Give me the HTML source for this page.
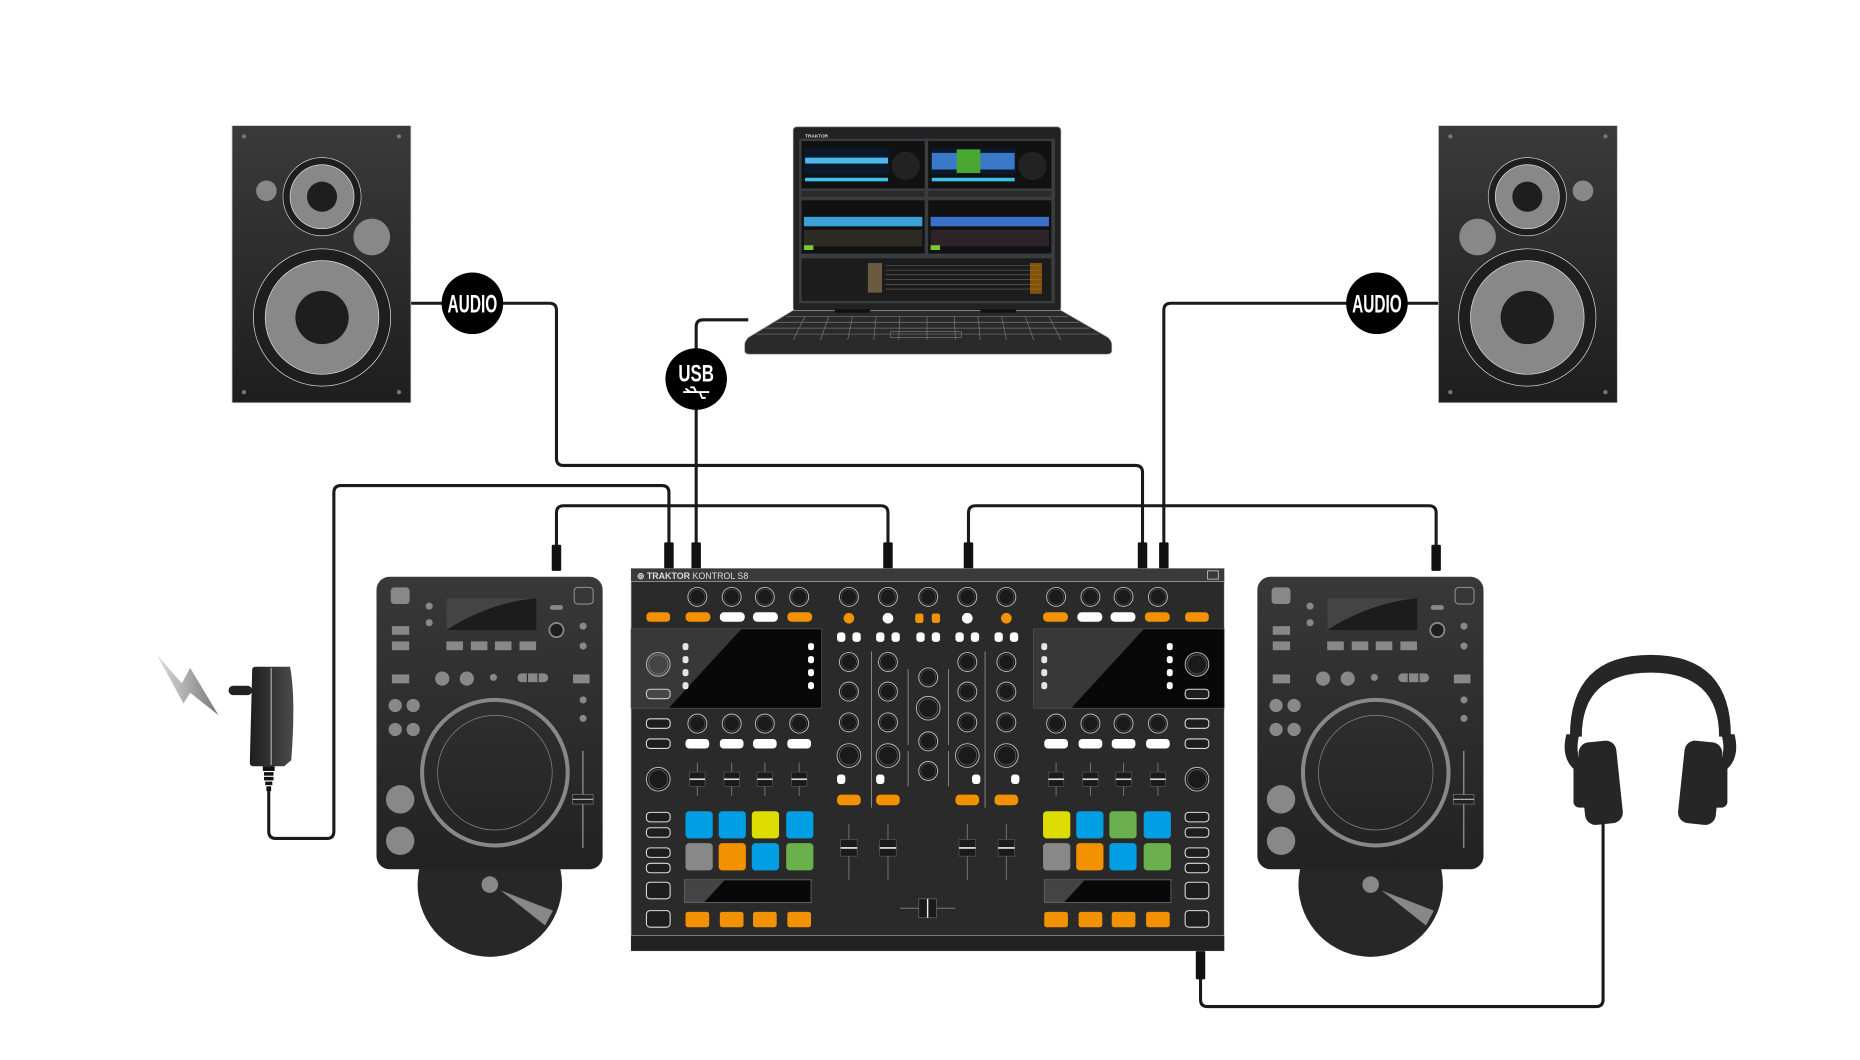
<!DOCTYPE html>
<html><head><meta charset="utf-8"><style>html,body{margin:0;padding:0;background:#fff}svg{display:block}</style></head>
<body>
<svg width="1860" height="1060" viewBox="0 0 1571 895" xmlns="http://www.w3.org/2000/svg">
<defs>
<linearGradient id="spk" x1="0" y1="0" x2="0" y2="1"><stop offset="0" stop-color="#3a3a3a"/><stop offset="1" stop-color="#1e1e1e"/></linearGradient>
<linearGradient id="dk" x1="0" y1="0" x2="0" y2="1"><stop offset="0" stop-color="#383838"/><stop offset="1" stop-color="#222"/></linearGradient>
<linearGradient id="bolt" x1="0" y1="0" x2="1" y2="0"><stop offset="0" stop-color="#ddd"/><stop offset="1" stop-color="#777"/></linearGradient>
<linearGradient id="adp" x1="0" y1="0" x2="1" y2="0"><stop offset="0" stop-color="#1e1e1e"/><stop offset="1" stop-color="#4a4a4a"/></linearGradient>
<g id="speaker">
<rect x="0" y="0" width="151" height="234" fill="url(#spk)" stroke="#bbb" stroke-width="0.6"/>
<circle cx="10" cy="9" r="1.8" fill="#777"/><circle cx="141" cy="9" r="1.8" fill="#777"/>
<circle cx="10" cy="225" r="1.8" fill="#777"/><circle cx="141" cy="225" r="1.8" fill="#777"/>
<circle cx="29" cy="55" r="8.7" fill="#888"/>
<circle cx="118" cy="94" r="15.5" fill="#888"/>
<circle cx="76" cy="60" r="33" fill="#1e1e1e" stroke="#ccc" stroke-width="0.6"/>
<circle cx="76" cy="60" r="27" fill="#888" stroke="#ddd" stroke-width="0.6"/>
<circle cx="76" cy="60" r="12.7" fill="#1e1e1e"/>
<circle cx="76" cy="162" r="58" fill="#1e1e1e" stroke="#ddd" stroke-width="0.6"/>
<circle cx="76" cy="162" r="48" fill="#888" stroke="#ddd" stroke-width="0.6"/>
<circle cx="76" cy="162" r="22.5" fill="#1e1e1e"/>
</g>
<g id="deck">
<circle cx="95.7" cy="260" r="61" fill="#272727"/>
<circle cx="95.7" cy="260" r="7" fill="#888"/>
<polygon points="105,265 149,282 142.4,294.5" fill="#888"/>
<rect x="0" y="0" width="191" height="247" rx="11" fill="url(#dk)"/>
<rect x="12" y="9" width="16" height="14" rx="3" fill="#888"/>
<rect x="167" y="9" width="16" height="14" rx="3" fill="none" stroke="#888" stroke-width="1"/>
<circle cx="44.5" cy="24.8" r="3" fill="#888"/><circle cx="44.5" cy="38.8" r="3" fill="#888"/>
<rect x="59" y="18" width="76" height="27" fill="#1c1c1c"/>
<path d="M59 18 H135 V18 Q95 22 59 45 Z" fill="#444"/>
<rect x="146.5" y="24" width="11" height="4" rx="2" fill="#888"/>
<circle cx="152" cy="45" r="6" fill="#1e1e1e" stroke="#888" stroke-width="1.5"/>
<circle cx="174.5" cy="41.7" r="3" fill="#888"/><circle cx="174.5" cy="58.5" r="3" fill="#888"/>
<rect x="13" y="41.7" width="14.6" height="7.3" fill="#888"/>
<rect x="13" y="54.6" width="14.6" height="7.4" fill="#888"/>
<rect x="59" y="54.6" width="14" height="7.4" fill="#888"/><rect x="79.7" y="54.6" width="14" height="7.4" fill="#888"/>
<rect x="100" y="54.6" width="14" height="7.4" fill="#888"/><rect x="120.8" y="54.6" width="14" height="7.4" fill="#888"/>
<rect x="13" y="82.5" width="14.6" height="7.5" fill="#888"/>
<circle cx="55.5" cy="86" r="6" fill="#888"/><circle cx="76.3" cy="86" r="6" fill="#888"/><circle cx="98.8" cy="85" r="3" fill="#888"/>
<rect x="119" y="81.6" width="26" height="7.4" rx="3.7" fill="#888"/>
<line x1="127.5" y1="81.6" x2="127.5" y2="89" stroke="#2a2a2a" stroke-width="1"/><line x1="136.5" y1="81.6" x2="136.5" y2="89" stroke="#2a2a2a" stroke-width="1"/>
<rect x="166" y="82.5" width="14" height="7.5" fill="#888"/>
<circle cx="174.5" cy="104" r="3" fill="#888"/><circle cx="174.5" cy="119.6" r="3" fill="#888"/>
<circle cx="15.8" cy="108.7" r="5.6" fill="#888"/><circle cx="31" cy="108.7" r="5.6" fill="#888"/>
<circle cx="15.8" cy="129" r="5.6" fill="#888"/><circle cx="31" cy="129" r="5.6" fill="#888"/>
<circle cx="100" cy="165.5" r="61.5" fill="none" stroke="#888" stroke-width="3.4"/>
<circle cx="100" cy="165.5" r="48.4" fill="none" stroke="#888" stroke-width="0.6"/>
<circle cx="20" cy="188" r="12" fill="#888"/><circle cx="20" cy="223" r="12" fill="#888"/>
<line x1="174.3" y1="147" x2="174.3" y2="229" stroke="#888" stroke-width="1.2"/>
<rect x="165.5" y="184" width="17.5" height="8" fill="#222" stroke="#777" stroke-width="0.6"/>
<line x1="165.5" y1="188" x2="183" y2="188" stroke="#aaa" stroke-width="1"/>
</g>
<g id="knob"><circle r="8" fill="#1a1a1a" stroke="#bbb" stroke-width="0.8"/><circle r="6.3" fill="none" stroke="#555" stroke-width="0.5"/></g>
<g id="bknob"><circle r="10" fill="#1a1a1a" stroke="#bbb" stroke-width="0.8"/><circle r="8" fill="none" stroke="#666" stroke-width="0.6"/></g>
<g id="ob"><rect x="-10" y="-4" width="20" height="8" rx="3" fill="#1e1e1e" stroke="#ddd" stroke-width="0.9"/></g>
<g id="fader"><line x1="0" y1="-14" x2="0" y2="14" stroke="#777" stroke-width="0.8"/><rect x="-6.5" y="-6" width="13" height="12" fill="#1a1a1a" stroke="#555" stroke-width="0.6"/><line x1="-6.5" y1="0" x2="6.5" y2="0" stroke="#ddd" stroke-width="1.4"/></g>
<g id="side">
<rect x="533" y="531" width="161" height="67" fill="#080808" stroke="#555" stroke-width="0.6"/>
<use href="#bknob" x="556" y="561"/>
<use href="#ob" x="556" y="586"/>
<g fill="#fff"><rect x="576.5" y="543" width="5" height="6" rx="2"/><rect x="576.5" y="554" width="5" height="6" rx="2"/><rect x="576.5" y="565" width="5" height="6" rx="2"/><rect x="576.5" y="576" width="5" height="6" rx="2"/>
<rect x="682.5" y="543" width="5" height="6" rx="2"/><rect x="682.5" y="554" width="5" height="6" rx="2"/><rect x="682.5" y="565" width="5" height="6" rx="2"/><rect x="682.5" y="576" width="5" height="6" rx="2"/></g>
<use href="#knob" x="589" y="504"/><use href="#knob" x="618" y="504"/><use href="#knob" x="646" y="504"/><use href="#knob" x="675" y="504"/>
<rect x="546" y="517" width="20" height="8" rx="3" fill="#f39200"/><rect x="579" y="517" width="21" height="8" rx="3.5" fill="#f39200"/>
<rect x="608" y="517" width="21" height="8" rx="3.5" fill="#fff"/><rect x="636" y="517" width="21" height="8" rx="3.5" fill="#fff"/>
<rect x="665" y="517" width="21" height="8" rx="3.5" fill="#f39200"/>
<use href="#knob" x="589" y="611"/><use href="#knob" x="618" y="611"/><use href="#knob" x="646" y="611"/><use href="#knob" x="675" y="611"/>
<use href="#ob" x="556" y="611"/><use href="#ob" x="556" y="628"/>
<g fill="#fff"><rect x="579" y="624" width="20" height="8" rx="3"/><rect x="608" y="624" width="20" height="8" rx="3"/><rect x="636" y="624" width="20" height="8" rx="3"/><rect x="665" y="624" width="20" height="8" rx="3"/></g>
<use href="#bknob" x="556" y="658"/>
<use href="#fader" x="589" y="658"/><use href="#fader" x="618" y="658"/><use href="#fader" x="646" y="658"/><use href="#fader" x="675" y="658"/>
<use href="#ob" x="556" y="690"/><use href="#ob" x="556" y="703"/><use href="#ob" x="556" y="720"/><use href="#ob" x="556" y="733"/>
<rect x="546" y="745" width="20" height="14" rx="3" fill="#1e1e1e" stroke="#ddd" stroke-width="0.9"/>
<rect x="546" y="769" width="20" height="14" rx="3" fill="#1e1e1e" stroke="#ddd" stroke-width="0.9"/>
<rect x="578" y="743" width="107" height="19" fill="#080808" stroke="#777" stroke-width="0.6"/>
<g fill="#f39200"><rect x="579" y="770" width="20" height="13" rx="2"/><rect x="608" y="770" width="20" height="13" rx="2"/><rect x="636" y="770" width="20" height="13" rx="2"/><rect x="665" y="770" width="20" height="13" rx="2"/></g>
</g>
</defs>

<!-- cables -->
<g fill="none" stroke="#1a1a1a" stroke-width="2.6">
<path d="M347 256 H464 Q470 256 470 262 V387 Q470 393 476 393 H959 Q965 393 965 399 V460"/>
<path d="M1215 256 H989 Q983 256 983 262 V460"/>
<path d="M632 270 H594 Q588 270 588 276 V460"/>
<path d="M565 460 V416 Q565 410 559 410 H288 Q282 410 282 416 V702 Q282 708 276 708 H233 Q227 708 227 702 V665"/>
<path d="M470 462 V433 Q470 427 476 427 H744 Q750 427 750 433 V460"/>
<path d="M818 460 V433 Q818 427 824 427 H1207 Q1213 427 1213 433 V462"/>
<path d="M1014 820 V844 Q1014 850 1020 850 H1348 Q1354 850 1354 844 V690"/>
</g>
<g fill="#111">
<rect x="466" y="460" width="8" height="22" rx="1"/><rect x="561" y="458" width="8" height="24" rx="1"/><rect x="584" y="458" width="8" height="24" rx="1"/>
<rect x="746" y="458" width="8" height="24" rx="1"/><rect x="814" y="458" width="8" height="24" rx="1"/><rect x="961" y="458" width="8" height="24" rx="1"/>
<rect x="979" y="458" width="8" height="24" rx="1"/><rect x="1209" y="460" width="8" height="22" rx="1"/>
<rect x="1010" y="803" width="8" height="24" rx="1"/>
</g>

<!-- speakers -->
<use href="#speaker" x="196" y="106"/>
<g transform="translate(1366,106) scale(-1,1)"><use href="#speaker"/></g>

<!-- badges -->
<g font-family="'Liberation Sans Narrow','Liberation Sans',sans-serif" font-weight="bold" fill="#fff" text-anchor="middle">
<circle cx="399" cy="256" r="26" fill="#000"/><text x="399" y="264" font-size="21" textLength="42" lengthAdjust="spacingAndGlyphs">AUDIO</text>
<circle cx="1163" cy="256" r="26" fill="#000"/><text x="1163" y="264" font-size="21" textLength="42" lengthAdjust="spacingAndGlyphs">AUDIO</text>
<circle cx="588" cy="320" r="26" fill="#000"/><text x="588" y="322" font-size="20" textLength="30" lengthAdjust="spacingAndGlyphs">USB</text>
<path d="M577 331 H599 M583 331 l-4 -3 M591 331 l2 5 h3 M588 331 l-2 -4 h-3" stroke="#fff" stroke-width="1.6" fill="none"/>
</g>

<!-- laptop -->
<rect x="670" y="107" width="226" height="156" rx="3" fill="#222" stroke="#888" stroke-width="0.6"/>
<rect x="675" y="112" width="216" height="144" fill="#3a3d40"/>
<rect x="675" y="112" width="216" height="5" fill="#202224"/>
<text x="680" y="116" font-family="'Liberation Sans',sans-serif" font-size="4" fill="#ddd" font-weight="bold">TRAKTOR</text>
<rect x="677" y="119" width="104" height="40" fill="#111"/><rect x="784" y="119" width="104" height="40" fill="#111"/>
<rect x="679" y="125" width="72" height="22" fill="#0b1a2a"/><rect x="786" y="125" width="72" height="22" fill="#0b1a2a"/>
<rect x="680" y="133" width="70" height="5" fill="#4ab8e8"/><rect x="787" y="129" width="70" height="14" fill="#3a78c8"/><rect x="808" y="126" width="20" height="20" fill="#4aa832"/>
<rect x="680" y="150" width="70" height="3" fill="#40c0e8"/><rect x="787" y="150" width="70" height="3" fill="#40c0e8"/>
<circle cx="765" cy="140" r="12" fill="#222"/><circle cx="872" cy="140" r="12" fill="#222"/>
<rect x="677" y="161" width="104" height="5" fill="#2a2a2a"/><rect x="784" y="161" width="104" height="5" fill="#2a2a2a"/>
<rect x="677" y="169" width="104" height="45" fill="#111"/><rect x="784" y="169" width="104" height="45" fill="#111"/>
<rect x="679" y="183" width="100" height="8" fill="#3aa0d8"/><rect x="786" y="183" width="100" height="8" fill="#3a70c8"/>
<rect x="679" y="194" width="100" height="14" fill="#2c2c24"/><rect x="786" y="194" width="100" height="14" fill="#2c2428"/>
<rect x="679" y="207" width="8" height="4" fill="#7c3"/><rect x="786" y="207" width="8" height="4" fill="#7c3"/>
<rect x="677" y="218" width="211" height="36" fill="#1c1c1c"/>
<rect x="733" y="222" width="12" height="25" fill="#6a5a40"/>
<g stroke="#666" stroke-width="0.5"><line x1="748" y1="224" x2="880" y2="224"/><line x1="748" y1="228" x2="880" y2="228"/><line x1="748" y1="232" x2="880" y2="232"/><line x1="748" y1="236" x2="880" y2="236"/><line x1="748" y1="240" x2="880" y2="240"/><line x1="748" y1="244" x2="880" y2="244"/></g>
<rect x="870" y="222" width="10" height="26" fill="#c87800" opacity="0.6"/>
<path d="M670 262 H896 L936 285 Q939 288 939 291 V296 Q939 299 935 299 H633 Q629 299 629 296 V291 Q629 288 632 285 Z" fill="#2a2a2a" stroke="#999" stroke-width="0.6"/>
<rect x="705" y="261" width="30" height="3" fill="#111"/><rect x="828" y="261" width="30" height="3" fill="#111"/>
<g stroke="#777" stroke-width="0.6" fill="none">
<path d="M664 267 H902 M655 272 H911 M646 277 H920 M638 282 H928"/>
<path d="M680 267 L670 287 M700 267 L693 287 M720 267 L716 287 M740 267 L738 287 M760 267 L759 287 M783 267 V287 M806 267 L807 287 M826 267 L828 287 M846 267 L850 287 M866 267 L873 287 M886 267 L896 287"/>
<rect x="752" y="280" width="60" height="5"/>
</g>

<!-- power -->
<polygon points="132.5,553 153.6,577 160.6,564 184.6,604 160.6,585 155,594" fill="url(#bolt)"/>
<rect x="193" y="579" width="20" height="8" rx="4" fill="#222"/>
<path d="M213 566 Q213 563 216 563 H245 Q250 590 246 642 L240 647 H214 Q211 647 211 644 Z" fill="url(#adp)"/>
<line x1="229" y1="564" x2="229" y2="646" stroke="#ccc" stroke-width="0.8"/>
<g fill="#111"><rect x="222" y="647" width="10" height="4"/><rect x="223" y="652" width="8" height="3"/><rect x="223" y="656" width="8" height="3"/><rect x="224" y="660" width="6" height="3"/><rect x="225" y="664" width="4" height="4"/></g>

<!-- decks -->
<use href="#deck" x="318" y="487"/>
<use href="#deck" x="1062" y="487"/>

<!-- mixer -->
<rect x="533" y="480" width="501" height="323" fill="#2a2a2a" stroke="#bbb" stroke-width="0.5"/>
<rect x="533" y="480" width="501" height="11" fill="#3a3a3a"/>
<line x1="533" y1="491" x2="1034" y2="491" stroke="#aaa" stroke-width="0.7"/>
<rect x="533" y="790" width="501" height="13" fill="#222"/>
<line x1="533" y1="790" x2="1034" y2="790" stroke="#999" stroke-width="0.7"/>
<text x="538" y="489" font-family="'Liberation Sans',sans-serif" font-size="7.5" fill="#ddd"><tspan font-weight="bold">⊚ TRAKTOR</tspan> KONTROL S8</text>
<rect x="1020" y="482" width="9" height="7" fill="none" stroke="#ccc" stroke-width="0.7"/>
<use href="#side"/>
<g transform="translate(1567,0) scale(-1,1)"><use href="#side"/></g>
<polygon points="533.3,531.3 626,531.3 565,597.7 533.3,597.7" fill="#aaa" opacity="0.3"/>
<polygon points="873.3,531.3 966,531.3 905,597.7 873.3,597.7" fill="#aaa" opacity="0.3"/>
<polygon points="578.3,743.3 612,743.3 595,761.7 578.3,761.7" fill="#444"/>
<polygon points="882.3,743.3 916,743.3 899,761.7 882.3,761.7" fill="#444"/>
<g>
<rect x="579" y="685" width="23" height="23" rx="3" fill="#009ee3"/><rect x="607" y="685" width="23" height="23" rx="3" fill="#009ee3"/><rect x="635" y="685" width="23" height="23" rx="3" fill="#dcdc00"/><rect x="664" y="685" width="23" height="23" rx="3" fill="#009ee3"/>
<rect x="579" y="712" width="23" height="23" rx="3" fill="#888"/><rect x="607" y="712" width="23" height="23" rx="3" fill="#f39200"/><rect x="635" y="712" width="23" height="23" rx="3" fill="#009ee3"/><rect x="664" y="712" width="23" height="23" rx="3" fill="#6ab04c"/>
<rect x="881" y="685" width="23" height="23" rx="3" fill="#dcdc00"/><rect x="909" y="685" width="23" height="23" rx="3" fill="#009ee3"/><rect x="937" y="685" width="23" height="23" rx="3" fill="#6ab04c"/><rect x="966" y="685" width="23" height="23" rx="3" fill="#009ee3"/>
<rect x="881" y="712" width="23" height="23" rx="3" fill="#888"/><rect x="909" y="712" width="23" height="23" rx="3" fill="#f39200"/><rect x="937" y="712" width="23" height="23" rx="3" fill="#009ee3"/><rect x="966" y="712" width="23" height="23" rx="3" fill="#6ab04c"/>
</g>
<!-- center -->
<use href="#knob" x="717" y="504"/><use href="#knob" x="750" y="504"/><use href="#knob" x="784" y="504"/><use href="#knob" x="817" y="504"/><use href="#knob" x="850" y="504"/>
<circle cx="717" cy="522" r="4.5" fill="#f39200"/><circle cx="750" cy="522" r="4.5" fill="#fff"/>
<rect x="773" y="518" width="7" height="8" rx="2" fill="#f39200"/><rect x="787" y="518" width="7" height="8" rx="2" fill="#f39200"/>
<circle cx="817" cy="522" r="4.5" fill="#fff"/><circle cx="850" cy="522" r="4.5" fill="#f39200"/>
<g fill="#fff">
<rect x="707" y="534" width="7" height="8" rx="2.5"/><rect x="720" y="534" width="7" height="8" rx="2.5"/><rect x="740" y="534" width="7" height="8" rx="2.5"/><rect x="753" y="534" width="7" height="8" rx="2.5"/>
<rect x="774" y="534" width="7" height="8" rx="2.5"/><rect x="787" y="534" width="7" height="8" rx="2.5"/><rect x="807" y="534" width="7" height="8" rx="2.5"/><rect x="820" y="534" width="7" height="8" rx="2.5"/>
<rect x="840" y="534" width="7" height="8" rx="2.5"/><rect x="853" y="534" width="7" height="8" rx="2.5"/>
<rect x="707" y="654" width="7" height="8" rx="2.5"/><rect x="740" y="654" width="7" height="8" rx="2.5"/><rect x="821" y="654" width="7" height="8" rx="2.5"/><rect x="854" y="654" width="7" height="8" rx="2.5"/>
</g>
<g stroke="#aaa" stroke-width="0.6"><line x1="736" y1="550" x2="736" y2="682"/><line x1="832" y1="550" x2="832" y2="682"/><line x1="767" y1="565" x2="767" y2="629"/><line x1="801" y1="565" x2="801" y2="629"/><line x1="767" y1="634" x2="767" y2="664"/><line x1="801" y1="634" x2="801" y2="664"/></g>
<use href="#knob" x="717" y="559"/><use href="#knob" x="750" y="559"/><use href="#knob" x="817" y="559"/><use href="#knob" x="850" y="559"/>
<use href="#knob" x="717" y="584"/><use href="#knob" x="750" y="584"/><use href="#knob" x="817" y="584"/><use href="#knob" x="850" y="584"/>
<use href="#knob" x="717" y="610"/><use href="#knob" x="750" y="610"/><use href="#knob" x="817" y="610"/><use href="#knob" x="850" y="610"/>
<use href="#bknob" x="717" y="638"/><use href="#bknob" x="750" y="638"/><use href="#bknob" x="817" y="638"/><use href="#bknob" x="850" y="638"/>
<use href="#knob" x="784" y="572"/><use href="#bknob" x="784" y="598"/><use href="#knob" x="784" y="626"/><use href="#knob" x="784" y="651"/>
<g fill="#f39200"><rect x="707" y="671" width="20" height="9" rx="3.5"/><rect x="740" y="671" width="20" height="9" rx="3.5"/><rect x="807" y="671" width="20" height="9" rx="3.5"/><rect x="840" y="671" width="20" height="9" rx="3.5"/></g>
<g>
<g><line x1="717" y1="696" x2="717" y2="743" stroke="#777" stroke-width="0.8"/><rect x="710" y="709" width="14" height="14" fill="#1a1a1a" stroke="#555" stroke-width="0.6"/><line x1="710" y1="716" x2="724" y2="716" stroke="#eee" stroke-width="1.4"/></g>
<g><line x1="750" y1="696" x2="750" y2="743" stroke="#777" stroke-width="0.8"/><rect x="743" y="709" width="14" height="14" fill="#1a1a1a" stroke="#555" stroke-width="0.6"/><line x1="743" y1="716" x2="757" y2="716" stroke="#eee" stroke-width="1.4"/></g>
<g><line x1="817" y1="696" x2="817" y2="743" stroke="#777" stroke-width="0.8"/><rect x="810" y="709" width="14" height="14" fill="#1a1a1a" stroke="#555" stroke-width="0.6"/><line x1="810" y1="716" x2="824" y2="716" stroke="#eee" stroke-width="1.4"/></g>
<g><line x1="850" y1="696" x2="850" y2="743" stroke="#777" stroke-width="0.8"/><rect x="843" y="709" width="14" height="14" fill="#1a1a1a" stroke="#555" stroke-width="0.6"/><line x1="843" y1="716" x2="857" y2="716" stroke="#eee" stroke-width="1.4"/></g>
</g>
<line x1="760" y1="767" x2="807" y2="767" stroke="#777" stroke-width="0.8"/>
<rect x="776" y="759" width="15" height="16" fill="#1a1a1a" stroke="#666" stroke-width="0.6"/>
<line x1="783.5" y1="759" x2="783.5" y2="775" stroke="#eee" stroke-width="1.2"/>

<!-- headphones -->
<path d="M1326 622 Q1326 553 1394 553 Q1462 553 1462 622 L1452 622 Q1452 568 1394 568 Q1336 568 1336 622 Z" fill="#262626"/>
<path d="M1323 620 Q1318 640 1330 650 L1336 645 Q1330 635 1334 620 Z" fill="#262626"/>
<path d="M1465 620 Q1470 640 1458 650 L1452 645 Q1458 635 1454 620 Z" fill="#262626"/>
<rect x="1329" y="642" width="16" height="40" rx="5" fill="#262626"/>
<rect x="1336" y="626" width="32" height="70" rx="9" fill="#262626" transform="rotate(-6 1352 661)"/>
<rect x="1443" y="642" width="16" height="40" rx="5" fill="#262626"/>
<rect x="1420" y="626" width="32" height="70" rx="9" fill="#262626" transform="rotate(6 1436 661)"/>
</svg>
</body></html>
